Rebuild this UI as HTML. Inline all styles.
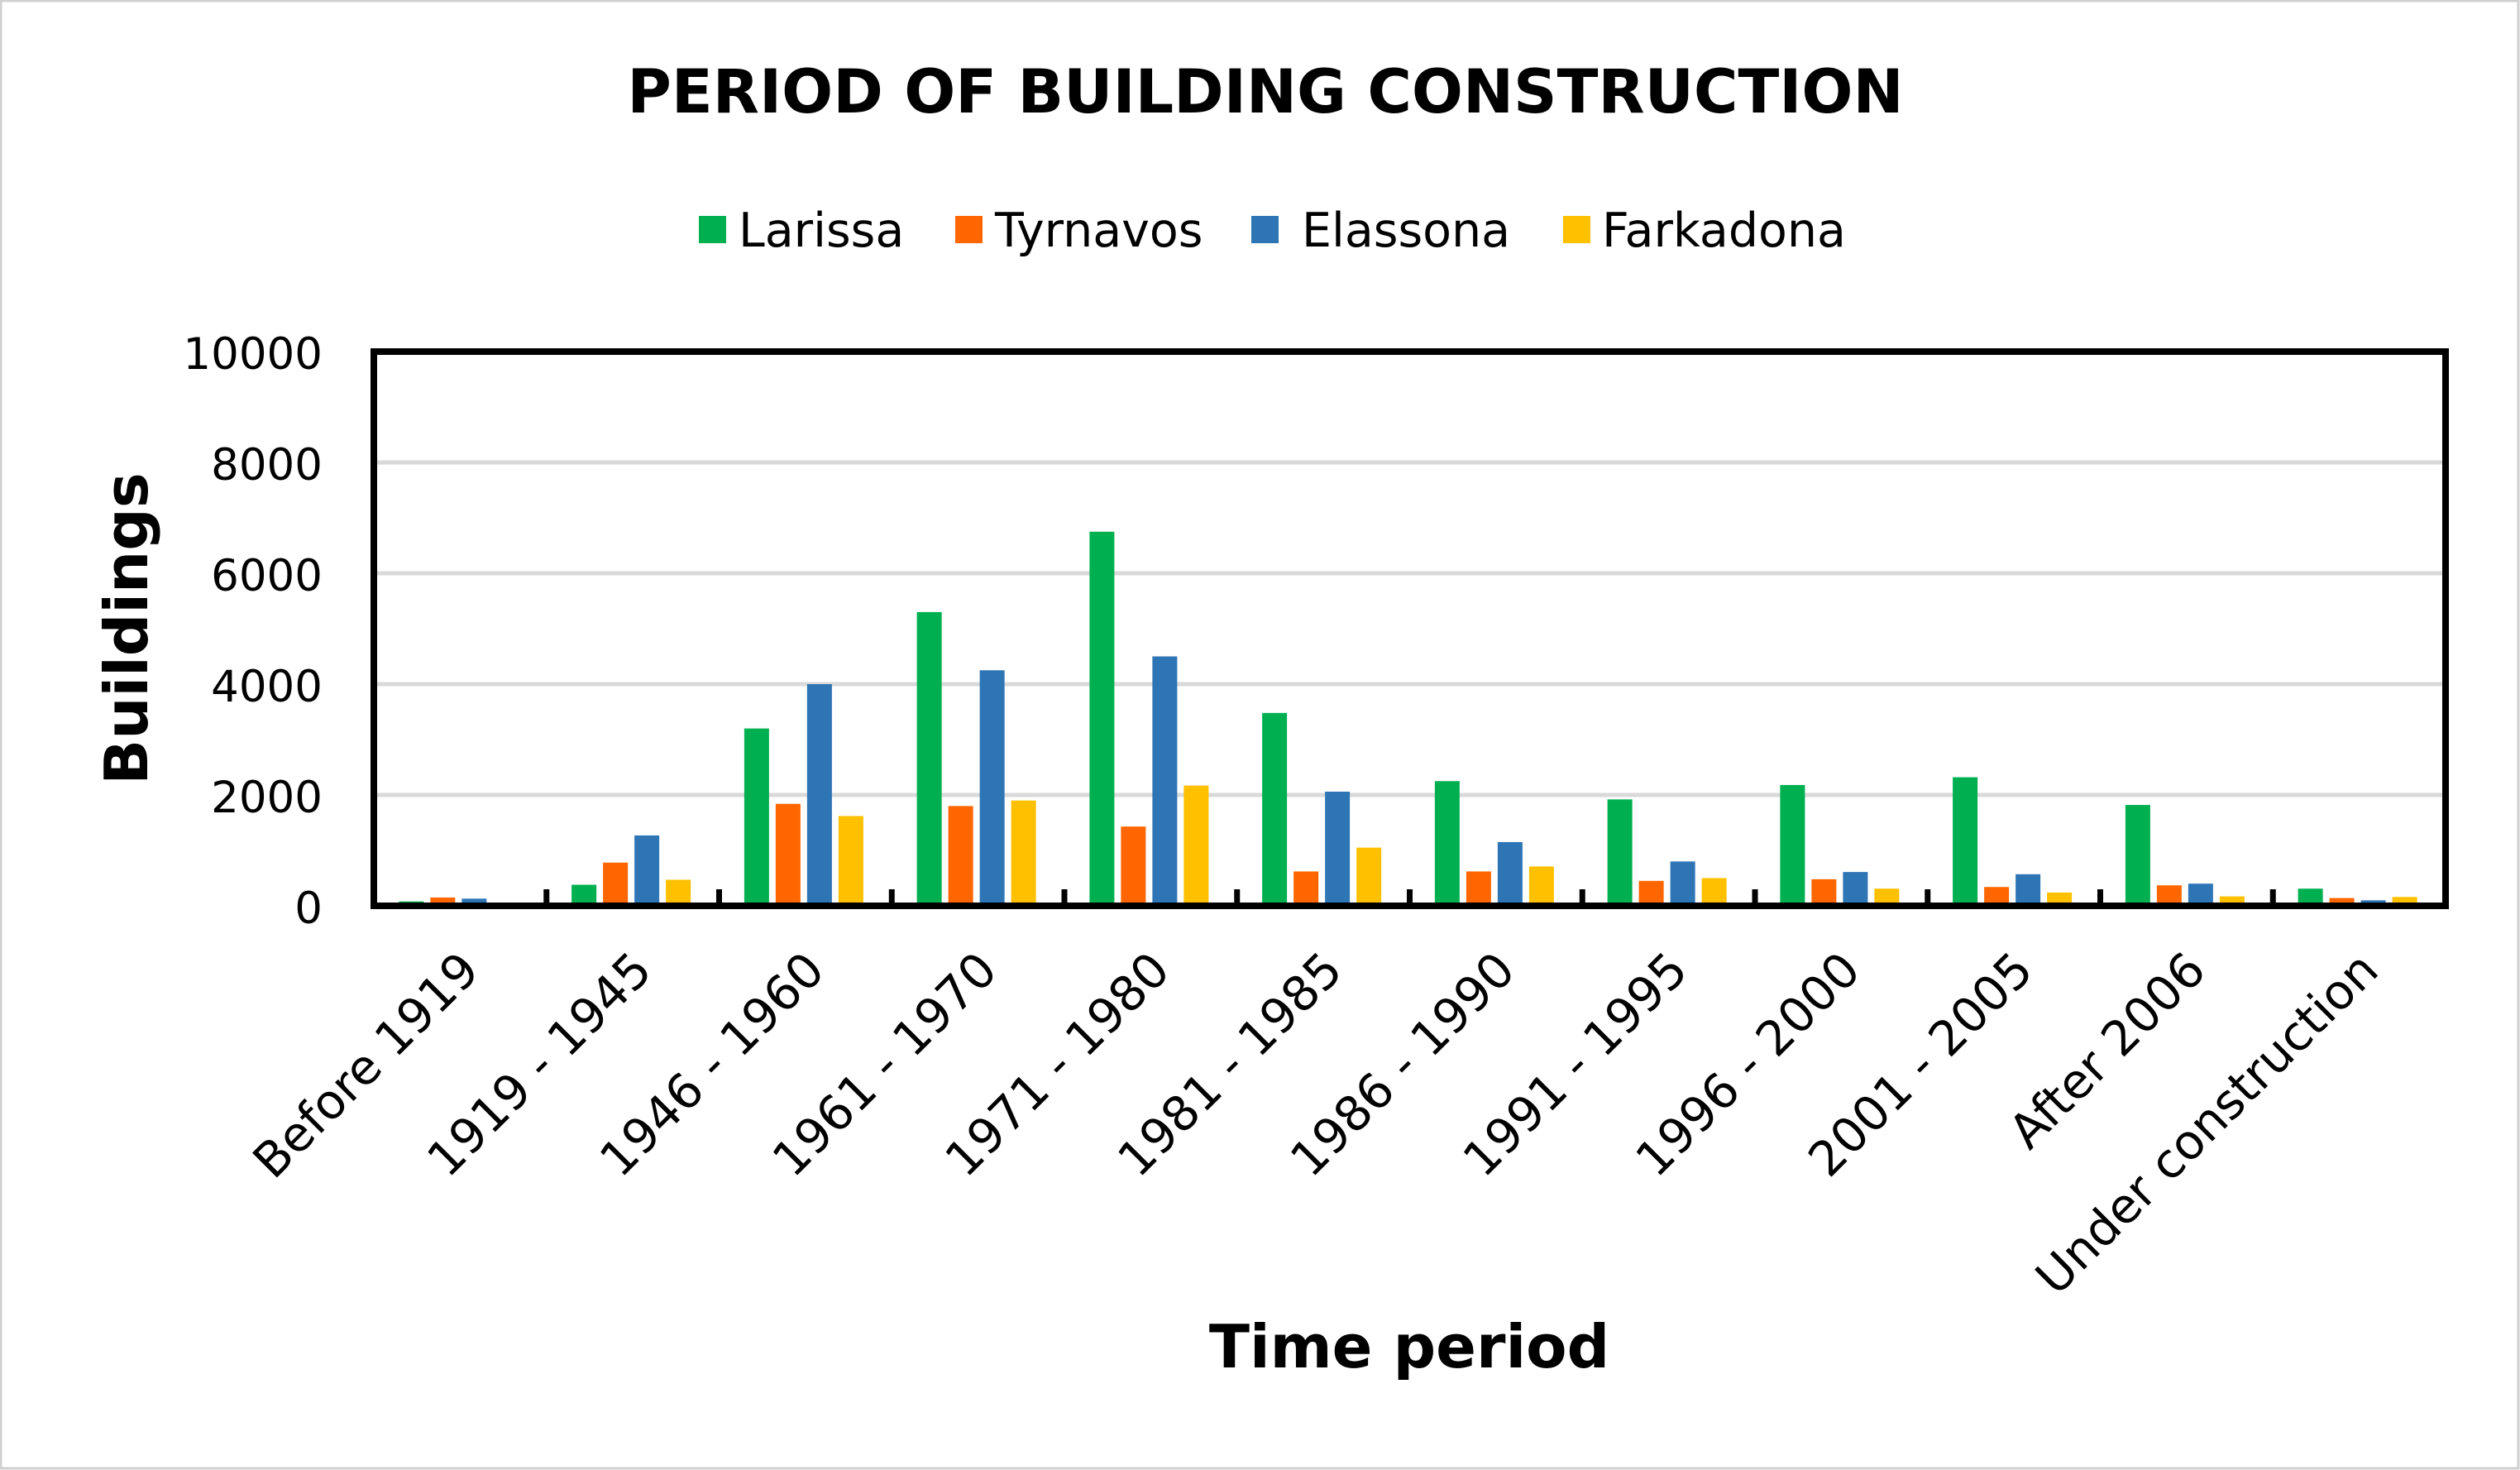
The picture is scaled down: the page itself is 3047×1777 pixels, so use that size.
<!DOCTYPE html>
<html><head><meta charset="utf-8"><style>
html,body{margin:0;padding:0;background:#fff}
svg{display:block}
text{font-family:"DejaVu Sans","Liberation Sans",sans-serif;fill:#000}
</style></head><body>
<svg width="3047" height="1777" xmlns="http://www.w3.org/2000/svg">
<rect x="1" y="1" width="3044" height="1774" fill="#fff" stroke="#d0d0d0" stroke-width="3"/>
<text x="1530" y="136" font-size="73" font-weight="bold" text-anchor="middle">PERIOD OF BUILDING CONSTRUCTION</text>
<g font-size="57">
<rect x="845" y="261" width="33" height="33" fill="#00b050"/><text x="893" y="298">Larissa</text>
<rect x="1155" y="261" width="33" height="33" fill="#ff6600"/><text x="1203" y="298">Tyrnavos</text>
<rect x="1513" y="261" width="33" height="33" fill="#2e75b6"/><text x="1574" y="298">Elassona</text>
<rect x="1890" y="261" width="33" height="33" fill="#ffc000"/><text x="1937" y="298">Farkadona</text>
</g>
<g stroke="#d9d9d9" stroke-width="5">
<line x1="452" x2="2959" y1="961" y2="961"/>
<line x1="452" x2="2959" y1="827" y2="827"/>
<line x1="452" x2="2959" y1="693" y2="693"/>
<line x1="452" x2="2959" y1="559" y2="559"/>
</g>
<g font-size="53" text-anchor="end">
<text x="390" y="1116">0</text>
<text x="390" y="982">2000</text>
<text x="390" y="848">4000</text>
<text x="390" y="714">6000</text>
<text x="390" y="580">8000</text>
<text x="390" y="446">10000</text>
</g>
<g id="bars"></g>
<rect x="452" y="425" width="2505" height="670" fill="none" stroke="#000" stroke-width="8"/>
<g id="ticks" stroke="#000" stroke-width="7"></g>
<g id="xl" font-size="58" text-anchor="end"></g>
<text transform="translate(178,760) rotate(-90)" font-size="72" font-weight="bold" text-anchor="middle">Buildings</text>
<text x="1704" y="1653" font-size="72" font-weight="bold" text-anchor="middle">Time period</text>
</svg>
<script>
var data=[[80,150,130,30],[380,780,1270,470],[3200,1840,4000,1620],[5300,1800,4250,1900],[6750,1430,4500,2170],[3480,620,2060,1050],[2250,620,1150,710],[1920,450,800,500],[2180,480,610,310],[2320,340,570,240],[1820,370,400,170],[310,140,100,160]];
var labels=["Before 1919","1919 - 1945","1946 - 1960","1961 - 1970","1971 - 1980","1981 - 1985","1986 - 1990","1991 - 1995","1996 - 2000","2001 - 2005","After 2006","Under construction"];
var cols=["#00b050","#ff6600","#2e75b6","#ffc000"];
var ns="http://www.w3.org/2000/svg",L=452,W=2505/12,B=1095,S=0.067;
var bars=document.getElementById("bars"),ticks=document.getElementById("ticks"),xl=document.getElementById("xl");
data.forEach(function(d,i){
 var x0=L+i*W+(W-152)/2+2;
 d.forEach(function(v,j){var r=document.createElementNS(ns,"rect");var h=v*S;
  r.setAttribute("x",x0+j*38);r.setAttribute("y",B-h);r.setAttribute("width",30);r.setAttribute("height",h);r.setAttribute("fill",cols[j]);bars.appendChild(r);});
 if(i>0){var l=document.createElementNS(ns,"line");var tx=L+i*W;l.setAttribute("x1",tx);l.setAttribute("x2",tx);l.setAttribute("y1",B);l.setAttribute("y2",B-20);ticks.appendChild(l);}
 var t=document.createElementNS(ns,"text");var cx=L+i*W+W/2+26,cy=1176;
 t.setAttribute("transform","translate("+cx+","+cy+") rotate(-45)");t.textContent=labels[i];xl.appendChild(t);
});
</script>
</body></html>
